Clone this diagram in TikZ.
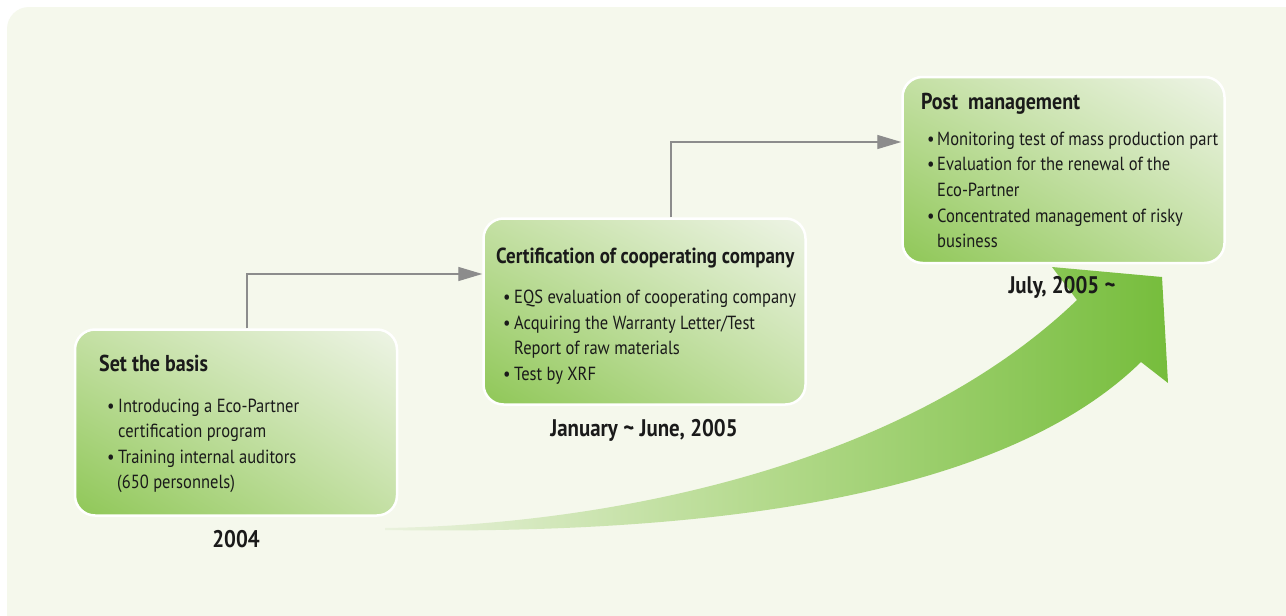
\documentclass[tikz,border=0pt]{standalone}
\usepackage{fontspec}
\setmainfont{PT Sans}[FakeStretch=0.87]
\usetikzlibrary{arrows.meta,shadings}
\definecolor{panel}{HTML}{F5F8EC}
\definecolor{boxdark}{HTML}{8FC757}
\definecolor{boxmid}{HTML}{C4E0A4}
\definecolor{boxlight}{HTML}{EEF4E6}
\definecolor{conngray}{HTML}{8C8C8C}
\definecolor{arrowdark}{HTML}{76BD3C}
\definecolor{arrowmid}{HTML}{B2D98A}
\definecolor{arrowlight}{HTML}{EAF2DE}
\definecolor{ink}{HTML}{1A1A1A}
\tikzset{
  box/.style={rounded corners=20pt, draw=white, line width=2.5pt,
    lower left=boxdark, upper right=boxlight, upper left=boxmid, lower right=boxmid,
    minimum width=322pt, minimum height=186pt, inner sep=0pt},
  conn/.style={draw=conngray, line width=1.3pt, -{Triangle[length=24pt,width=14pt]}},
  ttl/.style={anchor=base west, inner sep=0pt, font=\fontsize{23}{27}\selectfont\bfseries, text=ink},
  body/.style={anchor=base west, inner sep=0pt, font=\fontsize{19}{25.5}\selectfont, text=ink},
  bul/.style={anchor=base west, inner sep=0pt, font=\fontsize{19}{25.5}\selectfont, text=ink},
  date/.style={anchor=base, inner sep=0pt, font=\fontsize{24}{28}\selectfont\bfseries, text=ink}
}
\begin{document}
\begin{tikzpicture}[x=1pt,y=-1pt]
\useasboundingbox (0,0) rectangle (1286,616);
\fill[white] (0,0) rectangle (1286,616);
\fill[panel, rounded corners=22pt] (7,7) rectangle (1320,640);
% big arrow
\shade[left color=arrowlight, right color=arrowdark, middle color=arrowmid]
  (385,528) .. controls (600,525) and (900,470) .. (1077,300)
  -- (1052,267) -- (1162,277) -- (1168,383) -- (1141,362)
  .. controls (1000,500) and (700,535) .. (385,530) -- cycle;
% boxes
\node[box] (b1) at (236,422.5) {};
\node[box] (b2) at (644.5,311.5) {};
\node[box] (b3) at (1063.5,170) {};
% connectors
\draw[conn] ([xshift=11pt]b1.north) |- ([yshift=37.5pt]b2.west);
\draw[conn] ([xshift=26.5pt]b2.north) |- ([yshift=28pt]b3.west);
% box 1 text
\node[ttl] (t1) at (99,371) {Set the basis};
\node[bul] (u11) at (107,412) {•};
\node[body] (l11) at (118,412) {Introducing a Eco-Partner};
\node[body] (l12) at (118,437.5) {certification program};
\node[bul] (u12) at (107,463) {•};
\node[body] (l13) at (118,463) {Training internal auditors};
\node[body] (l14) at (117,488.5) {(650 personnels)};
% box 2 text
\node[ttl, font=\fontsize{21.8}{26}\selectfont\bfseries] (t2) at (496,263) {Certification of cooperating company};
\node[bul] (u21) at (503,303) {•};
\node[body] (l21) at (514,303) {EQS evaluation of cooperating company};
\node[bul] (u22) at (503,329) {•};
\node[body] (l22) at (514,329) {Acquiring the Warranty Letter/Test};
\node[body] (l23) at (514,354.5) {Report of raw materials};
\node[bul] (u23) at (503,380) {•};
\node[body] (l24) at (514,380) {Test by XRF};
% box 3 text
\node[ttl] (t3) at (921,109) {Post\ \ management};
\node[bul] (u31) at (927,145) {•};
\node[body] (l31) at (937,145) {Monitoring test of mass production part};
\node[bul] (u32) at (927,170.5) {•};
\node[body] (l32) at (937,170.5) {Evaluation for the renewal of the};
\node[body] (l33) at (937,196) {Eco-Partner};
\node[bul] (u33) at (927,222) {•};
\node[body] (l34) at (937,222) {Concentrated management of risky};
\node[body] (l35) at (937,247.5) {business};
% dates
\node[date] (d1) at (236,547) {2004};
\node[date] (d2) at (644,436) {January \char`~\ June, 2005};
\node[date] (d3) at (1062,293) {July, 2005 \char`~};
\end{tikzpicture}
\end{document}
